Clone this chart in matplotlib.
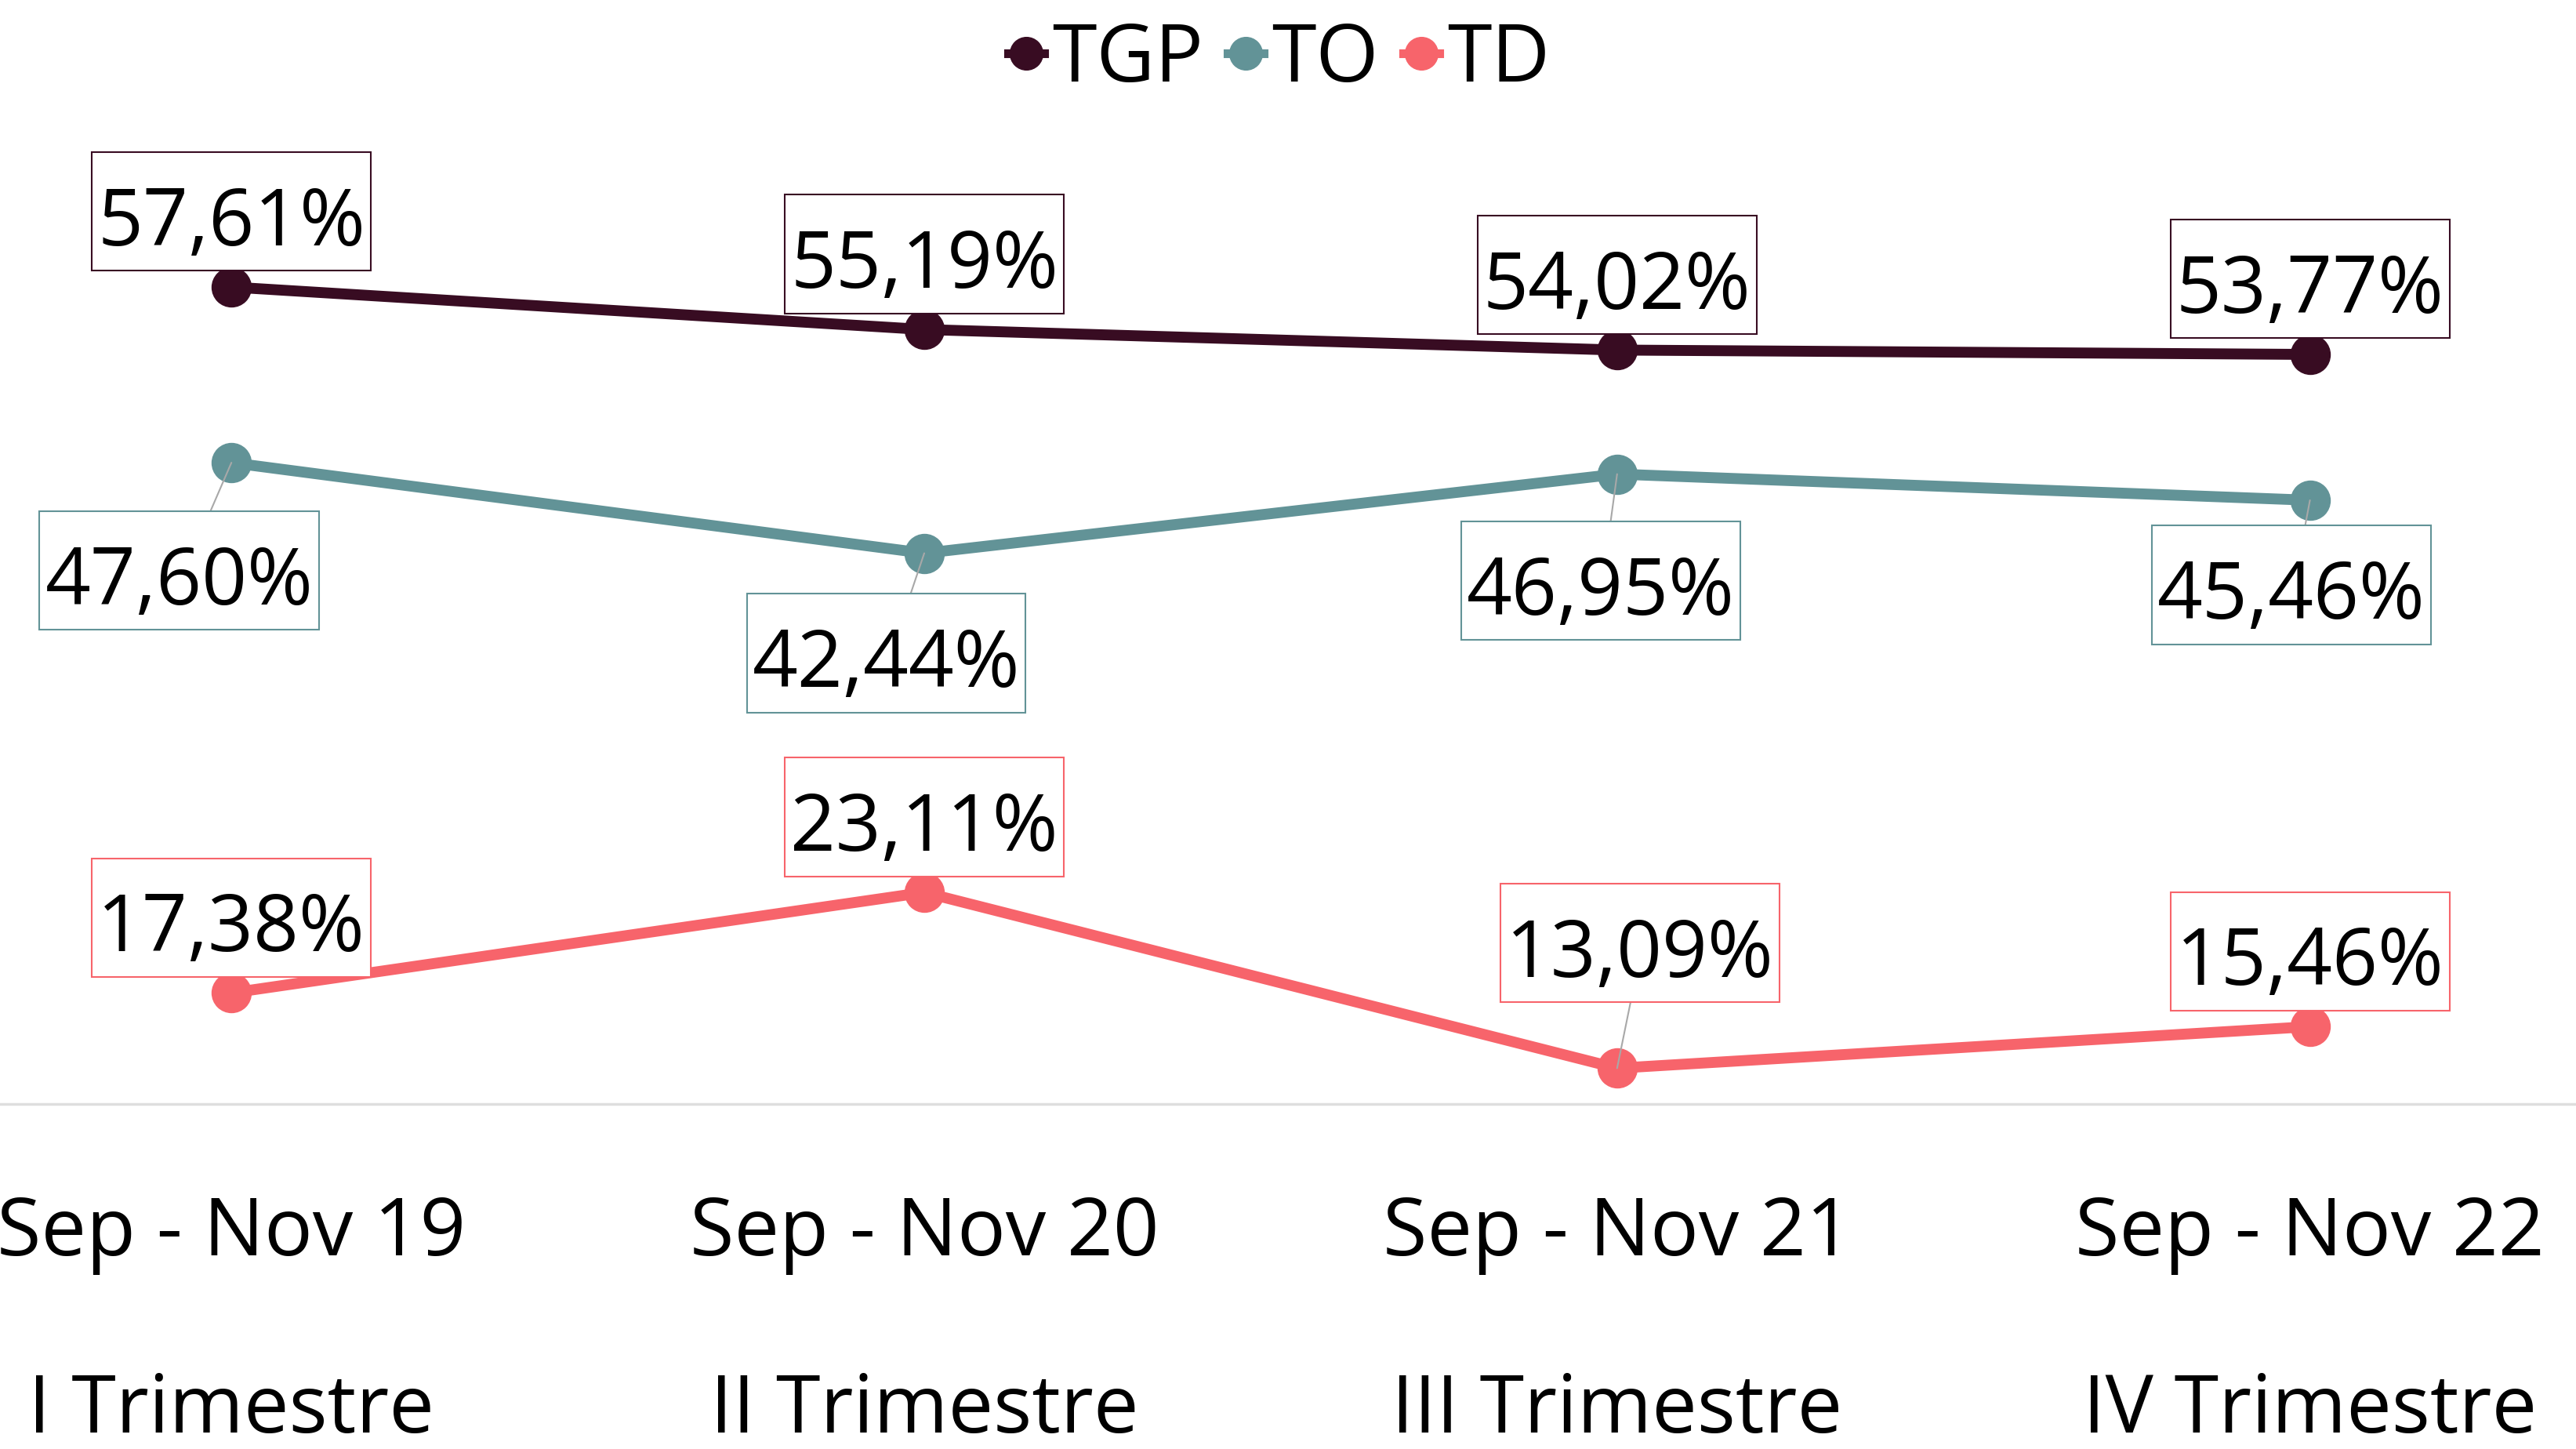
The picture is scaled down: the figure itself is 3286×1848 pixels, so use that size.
import matplotlib.pyplot as plt
from matplotlib.lines import Line2D
from matplotlib.path import Path
import matplotlib.transforms as mtransforms

plt.rcParams['font.family'] = ['Open Sans', 'DejaVu Sans']

periods = ['Sep - Nov 19', 'Sep - Nov 20', 'Sep - Nov 21', 'Sep - Nov 22']
quarters = ['I Trimestre', 'II Trimestre', 'III Trimestre', 'IV Trimestre']
series_names = ['TGP', 'TO', 'TD']
tgp = [57.61, 55.19, 54.02, 53.77]
to = [47.60, 42.44, 46.95, 45.46]
td = [17.38, 23.11, 13.09, 15.46]

colors = {'TGP': '#380c22', 'TO': '#629397', 'TD': '#f7646b'}
# label offsets in points (dx, dy) and whether a leader line is drawn
offsets = {
    'TGP': [(0, 57), (0, 57), (0, 57), (0, 57)],
    'TO': [(-48, -111), (-35, -104), (-15, -110), (-17, -90)],
    'TD': [(0, 57), (0, 57), (21, 103), (0, 57)],
}
leaders = {
    'TGP': [False] * 4,
    'TO': [True] * 4,
    'TD': [False, False, True, False],
}


def label_box(x0, y0, width, height, mutation_size):
    # more room on top than below so the digits sit in the middle
    px = 0.07 * mutation_size
    py_top = 0.418 * mutation_size
    py_bot = 0.082 * mutation_size
    xa, ya = x0 - px, y0 - py_bot
    xb, yb = x0 + width + px, y0 + height + py_top
    return Path([(xa, ya), (xb, ya), (xb, yb), (xa, yb), (xa, ya)],
                closed=True)


fs = 73
fig = plt.figure(figsize=(32.86, 18.48), dpi=100)
ax = fig.add_axes([0, 0.2381, 1, 0.6712])

x = list(range(len(periods)))
data = {'TGP': tgp, 'TO': to, 'TD': td}
for name in series_names:
    ax.plot(x, data[name], color=colors[name], lw=10, marker='o', markersize=36,
            solid_capstyle='round', zorder=3)

for name in series_names:
    for i, v in enumerate(data[name]):
        txt = f"{v:.2f}%".replace('.', ',')
        kw = {}
        if leaders[name][i]:
            kw['arrowprops'] = dict(arrowstyle='-', color='#a8a8a8', lw=1.5,
                                    shrinkA=0, shrinkB=0)
        ax.annotate(txt, xy=(i, v), xytext=offsets[name][i], textcoords='offset points',
                    ha='center', va='center', fontsize=fs, color='black', zorder=5,
                    bbox=dict(boxstyle=label_box, fc='white', ec=colors[name], lw=1.5),
                    **kw)

ax.set_xlim(-0.334, 3.384)
ax.set_ylim(11.05, 66.48)
ax.set_xticks([])
ax.set_yticks([])
for s in ['top', 'left', 'right']:
    ax.spines[s].set_visible(False)
ax.spines['bottom'].set_color('#dedede')
ax.spines['bottom'].set_linewidth(2.5)

trans = mtransforms.blended_transform_factory(ax.transData, ax.transAxes)
for i in x:
    ax.text(i, -0.156, periods[i], transform=trans, ha='center', va='baseline', fontsize=fs + 1)
    ax.text(i, -0.338, quarters[i], transform=trans, ha='center', va='baseline', fontsize=fs + 1)

handles = [Line2D([], [], color=colors[n], lw=8, marker='o', markersize=30) for n in series_names]
fig.legend(handles, series_names, loc='center', bbox_to_anchor=(0.4965, 0.958), ncol=3,
           frameon=False, handlelength=0.45, handletextpad=0.1, columnspacing=0.3,
           fontsize=fs + 1)

fig.savefig('out.png', dpi=100, facecolor='white')
